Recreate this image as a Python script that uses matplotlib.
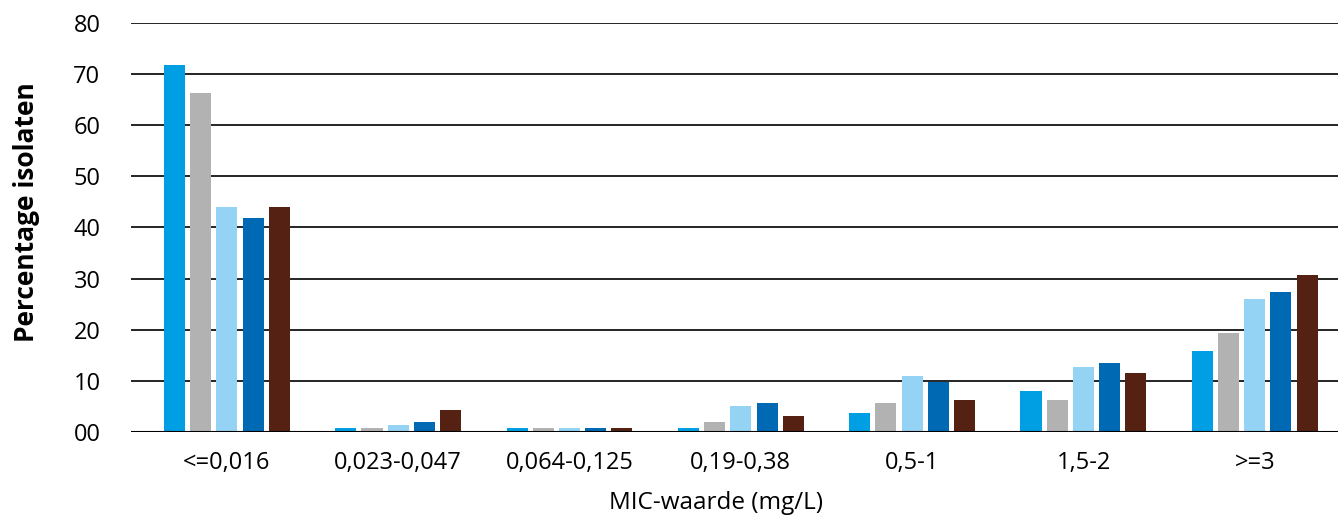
import matplotlib
matplotlib.use("Agg")
import matplotlib.pyplot as plt
import numpy as np

plt.rcParams['font.family'] = ['Open Sans', 'DejaVu Sans']

categories = ["<=0,016", "0,023-0,047", "0,064-0,125", "0,19-0,38", "0,5-1", "1,5-2", ">=3"]
serie1 = [71.8, 0.8, 0.8, 0.8, 3.8, 8.0, 15.9]
serie2 = [66.3, 0.8, 0.8, 2.0, 5.6, 6.2, 19.4]
serie3 = [44.1, 1.4, 0.8, 5.0, 11.0, 12.8, 26.0]
serie4 = [41.8, 2.0, 0.8, 5.6, 9.8, 13.4, 27.3]
serie5 = [44.1, 4.3, 0.8, 3.2, 6.3, 11.6, 30.8]
yticks = [0, 10, 20, 30, 40, 50, 60, 70, 80]
yticklabels = ["00", "10", "20", "30", "40", "50", "60", "70", "80"]

series = [serie1, serie2, serie3, serie4, serie5]
colors = ["#009fe3", "#b2b2b2", "#95d3f5", "#0069b4", "#552112"]

fig = plt.figure(figsize=(13.43, 5.15), dpi=100)
ax = fig.add_axes([131/1343, 1 - 432/515, (1338-131)/1343, (432-23)/515])

x = np.arange(len(categories))
pitch = 0.153
width = 0.123
for i, (vals, c) in enumerate(zip(series, colors)):
    ax.bar(x + (i - 2) * pitch, vals, width, color=c, zorder=3)

ax.set_xlim(-0.56, 6.486)
ax.set_ylim(0, 80)
ax.set_yticks(yticks)
ax.set_yticklabels(yticklabels, fontsize=17)
ax.set_xticks(x)
ax.set_xticklabels(categories, fontsize=17)
ax.tick_params(length=0)
ax.tick_params(axis='y', pad=22)
ax.tick_params(axis='x', pad=14)
ax.grid(axis='y', color='black', linewidth=1.2, zorder=0)
for s in ax.spines.values():
    s.set_visible(False)
ax.axhline(0, color='black', linewidth=1.5, zorder=4)

fig.text(27/1343, 1 - 212/515, "Percentage isolaten", rotation=90, ha='center', va='center',
         fontsize=19, fontweight='bold')
fig.text(716/1343, 1 - 503/515, "MIC-waarde (mg/L)", ha='center', va='center', fontsize=17.5)

fig.savefig("out.png", dpi=100)
